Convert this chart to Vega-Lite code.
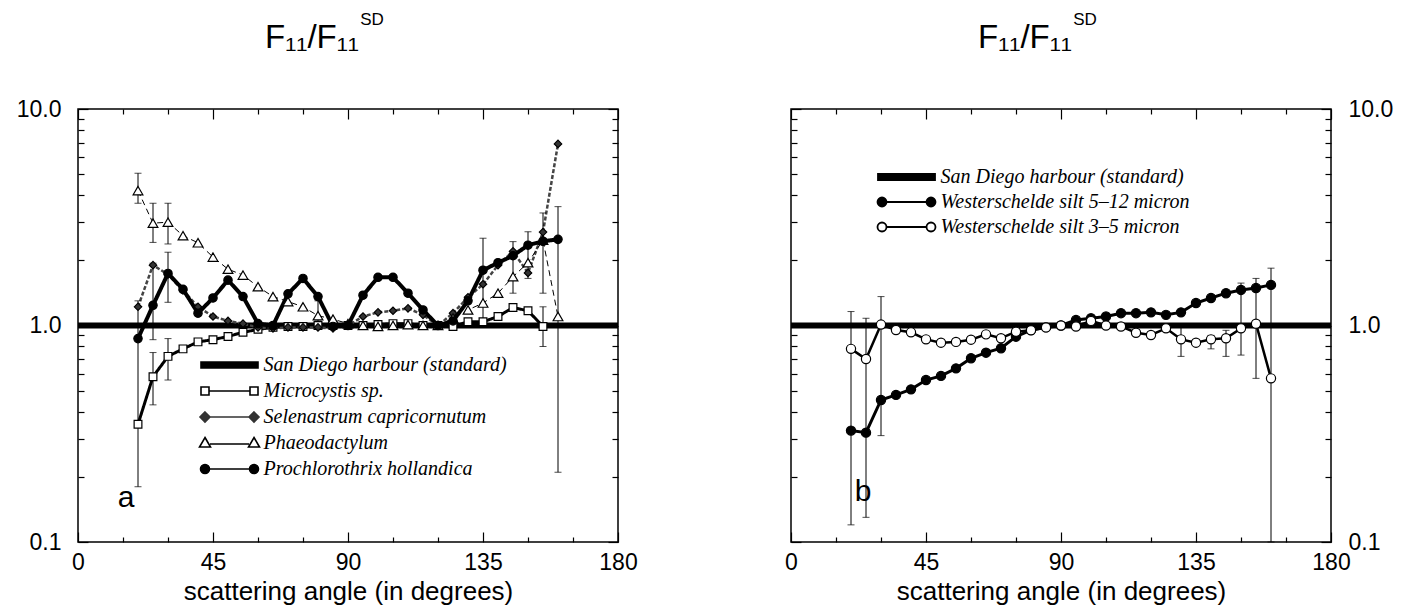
{
  "$schema": "https://vega.github.io/schema/vega-lite/v6.json",
  "padding": {"left": 15, "top": 10, "right": 15, "bottom": 2},
  "background": "white",
  "datasets": {
    "series": [
      {"panel":"a","series":"San Diego harbour (standard)","angle":0,"ratio":1.0},
      {"panel":"a","series":"San Diego harbour (standard)","angle":180,"ratio":1.0},
      {"panel":"a","series":"Microcystis sp.","angle":20,"ratio":0.35},
      {"panel":"a","series":"Microcystis sp.","angle":25,"ratio":0.58},
      {"panel":"a","series":"Microcystis sp.","angle":30,"ratio":0.72},
      {"panel":"a","series":"Microcystis sp.","angle":35,"ratio":0.78},
      {"panel":"a","series":"Microcystis sp.","angle":40,"ratio":0.84},
      {"panel":"a","series":"Microcystis sp.","angle":45,"ratio":0.86},
      {"panel":"a","series":"Microcystis sp.","angle":50,"ratio":0.89},
      {"panel":"a","series":"Microcystis sp.","angle":55,"ratio":0.93},
      {"panel":"a","series":"Microcystis sp.","angle":60,"ratio":0.96},
      {"panel":"a","series":"Microcystis sp.","angle":65,"ratio":0.98},
      {"panel":"a","series":"Microcystis sp.","angle":70,"ratio":0.99},
      {"panel":"a","series":"Microcystis sp.","angle":75,"ratio":0.99},
      {"panel":"a","series":"Microcystis sp.","angle":80,"ratio":1.0},
      {"panel":"a","series":"Microcystis sp.","angle":85,"ratio":1.0},
      {"panel":"a","series":"Microcystis sp.","angle":90,"ratio":1.0},
      {"panel":"a","series":"Microcystis sp.","angle":95,"ratio":1.0},
      {"panel":"a","series":"Microcystis sp.","angle":100,"ratio":1.01},
      {"panel":"a","series":"Microcystis sp.","angle":105,"ratio":1.02},
      {"panel":"a","series":"Microcystis sp.","angle":110,"ratio":1.02},
      {"panel":"a","series":"Microcystis sp.","angle":115,"ratio":1.0},
      {"panel":"a","series":"Microcystis sp.","angle":120,"ratio":1.0},
      {"panel":"a","series":"Microcystis sp.","angle":125,"ratio":0.99},
      {"panel":"a","series":"Microcystis sp.","angle":130,"ratio":1.04},
      {"panel":"a","series":"Microcystis sp.","angle":135,"ratio":1.04},
      {"panel":"a","series":"Microcystis sp.","angle":140,"ratio":1.1},
      {"panel":"a","series":"Microcystis sp.","angle":145,"ratio":1.21},
      {"panel":"a","series":"Microcystis sp.","angle":150,"ratio":1.17},
      {"panel":"a","series":"Microcystis sp.","angle":155,"ratio":0.99},
      {"panel":"a","series":"Selenastrum capricornutum","angle":20,"ratio":1.22},
      {"panel":"a","series":"Selenastrum capricornutum","angle":25,"ratio":1.9},
      {"panel":"a","series":"Selenastrum capricornutum","angle":30,"ratio":1.72},
      {"panel":"a","series":"Selenastrum capricornutum","angle":35,"ratio":1.45},
      {"panel":"a","series":"Selenastrum capricornutum","angle":40,"ratio":1.22},
      {"panel":"a","series":"Selenastrum capricornutum","angle":45,"ratio":1.1},
      {"panel":"a","series":"Selenastrum capricornutum","angle":50,"ratio":1.05},
      {"panel":"a","series":"Selenastrum capricornutum","angle":55,"ratio":1.02},
      {"panel":"a","series":"Selenastrum capricornutum","angle":60,"ratio":0.98},
      {"panel":"a","series":"Selenastrum capricornutum","angle":65,"ratio":0.97},
      {"panel":"a","series":"Selenastrum capricornutum","angle":70,"ratio":0.98},
      {"panel":"a","series":"Selenastrum capricornutum","angle":75,"ratio":0.98},
      {"panel":"a","series":"Selenastrum capricornutum","angle":80,"ratio":0.98},
      {"panel":"a","series":"Selenastrum capricornutum","angle":85,"ratio":0.97},
      {"panel":"a","series":"Selenastrum capricornutum","angle":90,"ratio":1.0},
      {"panel":"a","series":"Selenastrum capricornutum","angle":95,"ratio":1.1},
      {"panel":"a","series":"Selenastrum capricornutum","angle":100,"ratio":1.15},
      {"panel":"a","series":"Selenastrum capricornutum","angle":105,"ratio":1.17},
      {"panel":"a","series":"Selenastrum capricornutum","angle":110,"ratio":1.2},
      {"panel":"a","series":"Selenastrum capricornutum","angle":115,"ratio":1.12},
      {"panel":"a","series":"Selenastrum capricornutum","angle":120,"ratio":1.0},
      {"panel":"a","series":"Selenastrum capricornutum","angle":125,"ratio":1.14},
      {"panel":"a","series":"Selenastrum capricornutum","angle":130,"ratio":1.35},
      {"panel":"a","series":"Selenastrum capricornutum","angle":135,"ratio":1.55},
      {"panel":"a","series":"Selenastrum capricornutum","angle":140,"ratio":1.9},
      {"panel":"a","series":"Selenastrum capricornutum","angle":145,"ratio":2.2},
      {"panel":"a","series":"Selenastrum capricornutum","angle":150,"ratio":1.75},
      {"panel":"a","series":"Selenastrum capricornutum","angle":155,"ratio":2.7},
      {"panel":"a","series":"Selenastrum capricornutum","angle":160,"ratio":6.9},
      {"panel":"a","series":"Phaeodactylum","angle":20,"ratio":4.2},
      {"panel":"a","series":"Phaeodactylum","angle":25,"ratio":2.97},
      {"panel":"a","series":"Phaeodactylum","angle":30,"ratio":3.0},
      {"panel":"a","series":"Phaeodactylum","angle":35,"ratio":2.6},
      {"panel":"a","series":"Phaeodactylum","angle":40,"ratio":2.41},
      {"panel":"a","series":"Phaeodactylum","angle":45,"ratio":2.07},
      {"panel":"a","series":"Phaeodactylum","angle":50,"ratio":1.82},
      {"panel":"a","series":"Phaeodactylum","angle":55,"ratio":1.71},
      {"panel":"a","series":"Phaeodactylum","angle":60,"ratio":1.51},
      {"panel":"a","series":"Phaeodactylum","angle":65,"ratio":1.36},
      {"panel":"a","series":"Phaeodactylum","angle":70,"ratio":1.29},
      {"panel":"a","series":"Phaeodactylum","angle":75,"ratio":1.22},
      {"panel":"a","series":"Phaeodactylum","angle":80,"ratio":1.11},
      {"panel":"a","series":"Phaeodactylum","angle":85,"ratio":1.07},
      {"panel":"a","series":"Phaeodactylum","angle":90,"ratio":1.02},
      {"panel":"a","series":"Phaeodactylum","angle":95,"ratio":1.0},
      {"panel":"a","series":"Phaeodactylum","angle":100,"ratio":0.99},
      {"panel":"a","series":"Phaeodactylum","angle":105,"ratio":1.0},
      {"panel":"a","series":"Phaeodactylum","angle":110,"ratio":1.01},
      {"panel":"a","series":"Phaeodactylum","angle":115,"ratio":1.0},
      {"panel":"a","series":"Phaeodactylum","angle":120,"ratio":1.0},
      {"panel":"a","series":"Phaeodactylum","angle":125,"ratio":1.08},
      {"panel":"a","series":"Phaeodactylum","angle":130,"ratio":1.18},
      {"panel":"a","series":"Phaeodactylum","angle":135,"ratio":1.27},
      {"panel":"a","series":"Phaeodactylum","angle":140,"ratio":1.41},
      {"panel":"a","series":"Phaeodactylum","angle":145,"ratio":1.68},
      {"panel":"a","series":"Phaeodactylum","angle":150,"ratio":1.95},
      {"panel":"a","series":"Phaeodactylum","angle":155,"ratio":2.48},
      {"panel":"a","series":"Phaeodactylum","angle":160,"ratio":1.1},
      {"panel":"a","series":"Prochlorothrix hollandica","angle":20,"ratio":0.87},
      {"panel":"a","series":"Prochlorothrix hollandica","angle":25,"ratio":1.24},
      {"panel":"a","series":"Prochlorothrix hollandica","angle":30,"ratio":1.74},
      {"panel":"a","series":"Prochlorothrix hollandica","angle":35,"ratio":1.47},
      {"panel":"a","series":"Prochlorothrix hollandica","angle":40,"ratio":1.14},
      {"panel":"a","series":"Prochlorothrix hollandica","angle":45,"ratio":1.34},
      {"panel":"a","series":"Prochlorothrix hollandica","angle":50,"ratio":1.62},
      {"panel":"a","series":"Prochlorothrix hollandica","angle":55,"ratio":1.36},
      {"panel":"a","series":"Prochlorothrix hollandica","angle":60,"ratio":1.02},
      {"panel":"a","series":"Prochlorothrix hollandica","angle":65,"ratio":1.0},
      {"panel":"a","series":"Prochlorothrix hollandica","angle":70,"ratio":1.4},
      {"panel":"a","series":"Prochlorothrix hollandica","angle":75,"ratio":1.65},
      {"panel":"a","series":"Prochlorothrix hollandica","angle":80,"ratio":1.36},
      {"panel":"a","series":"Prochlorothrix hollandica","angle":85,"ratio":0.99},
      {"panel":"a","series":"Prochlorothrix hollandica","angle":90,"ratio":1.0},
      {"panel":"a","series":"Prochlorothrix hollandica","angle":95,"ratio":1.38},
      {"panel":"a","series":"Prochlorothrix hollandica","angle":100,"ratio":1.67},
      {"panel":"a","series":"Prochlorothrix hollandica","angle":105,"ratio":1.67},
      {"panel":"a","series":"Prochlorothrix hollandica","angle":110,"ratio":1.41},
      {"panel":"a","series":"Prochlorothrix hollandica","angle":115,"ratio":1.18},
      {"panel":"a","series":"Prochlorothrix hollandica","angle":120,"ratio":1.0},
      {"panel":"a","series":"Prochlorothrix hollandica","angle":125,"ratio":1.05},
      {"panel":"a","series":"Prochlorothrix hollandica","angle":130,"ratio":1.3},
      {"panel":"a","series":"Prochlorothrix hollandica","angle":135,"ratio":1.8},
      {"panel":"a","series":"Prochlorothrix hollandica","angle":140,"ratio":1.95},
      {"panel":"a","series":"Prochlorothrix hollandica","angle":145,"ratio":2.1},
      {"panel":"a","series":"Prochlorothrix hollandica","angle":150,"ratio":2.35},
      {"panel":"a","series":"Prochlorothrix hollandica","angle":155,"ratio":2.45},
      {"panel":"a","series":"Prochlorothrix hollandica","angle":160,"ratio":2.5},
      {"panel":"b","series":"San Diego harbour (standard)","angle":0,"ratio":1.0},
      {"panel":"b","series":"San Diego harbour (standard)","angle":180,"ratio":1.0},
      {"panel":"b","series":"Westerschelde silt 5–12 micron","angle":20,"ratio":0.327},
      {"panel":"b","series":"Westerschelde silt 5–12 micron","angle":25,"ratio":0.32},
      {"panel":"b","series":"Westerschelde silt 5–12 micron","angle":30,"ratio":0.453},
      {"panel":"b","series":"Westerschelde silt 5–12 micron","angle":35,"ratio":0.478},
      {"panel":"b","series":"Westerschelde silt 5–12 micron","angle":40,"ratio":0.507},
      {"panel":"b","series":"Westerschelde silt 5–12 micron","angle":45,"ratio":0.56},
      {"panel":"b","series":"Westerschelde silt 5–12 micron","angle":50,"ratio":0.585},
      {"panel":"b","series":"Westerschelde silt 5–12 micron","angle":55,"ratio":0.634},
      {"panel":"b","series":"Westerschelde silt 5–12 micron","angle":60,"ratio":0.706},
      {"panel":"b","series":"Westerschelde silt 5–12 micron","angle":65,"ratio":0.749},
      {"panel":"b","series":"Westerschelde silt 5–12 micron","angle":70,"ratio":0.785},
      {"panel":"b","series":"Westerschelde silt 5–12 micron","angle":75,"ratio":0.888},
      {"panel":"b","series":"Westerschelde silt 5–12 micron","angle":80,"ratio":0.953},
      {"panel":"b","series":"Westerschelde silt 5–12 micron","angle":85,"ratio":0.98},
      {"panel":"b","series":"Westerschelde silt 5–12 micron","angle":90,"ratio":1.0},
      {"panel":"b","series":"Westerschelde silt 5–12 micron","angle":95,"ratio":1.06},
      {"panel":"b","series":"Westerschelde silt 5–12 micron","angle":100,"ratio":1.08},
      {"panel":"b","series":"Westerschelde silt 5–12 micron","angle":105,"ratio":1.1},
      {"panel":"b","series":"Westerschelde silt 5–12 micron","angle":110,"ratio":1.14},
      {"panel":"b","series":"Westerschelde silt 5–12 micron","angle":115,"ratio":1.14},
      {"panel":"b","series":"Westerschelde silt 5–12 micron","angle":120,"ratio":1.15},
      {"panel":"b","series":"Westerschelde silt 5–12 micron","angle":125,"ratio":1.12},
      {"panel":"b","series":"Westerschelde silt 5–12 micron","angle":130,"ratio":1.15},
      {"panel":"b","series":"Westerschelde silt 5–12 micron","angle":135,"ratio":1.27},
      {"panel":"b","series":"Westerschelde silt 5–12 micron","angle":140,"ratio":1.34},
      {"panel":"b","series":"Westerschelde silt 5–12 micron","angle":145,"ratio":1.41},
      {"panel":"b","series":"Westerschelde silt 5–12 micron","angle":150,"ratio":1.46},
      {"panel":"b","series":"Westerschelde silt 5–12 micron","angle":155,"ratio":1.49},
      {"panel":"b","series":"Westerschelde silt 5–12 micron","angle":160,"ratio":1.54},
      {"panel":"b","series":"Westerschelde silt 3–5 micron","angle":20,"ratio":0.78},
      {"panel":"b","series":"Westerschelde silt 3–5 micron","angle":25,"ratio":0.70},
      {"panel":"b","series":"Westerschelde silt 3–5 micron","angle":30,"ratio":1.01},
      {"panel":"b","series":"Westerschelde silt 3–5 micron","angle":35,"ratio":0.953},
      {"panel":"b","series":"Westerschelde silt 3–5 micron","angle":40,"ratio":0.93},
      {"panel":"b","series":"Westerschelde silt 3–5 micron","angle":45,"ratio":0.863},
      {"panel":"b","series":"Westerschelde silt 3–5 micron","angle":50,"ratio":0.833},
      {"panel":"b","series":"Westerschelde silt 3–5 micron","angle":55,"ratio":0.84},
      {"panel":"b","series":"Westerschelde silt 3–5 micron","angle":60,"ratio":0.86},
      {"panel":"b","series":"Westerschelde silt 3–5 micron","angle":65,"ratio":0.91},
      {"panel":"b","series":"Westerschelde silt 3–5 micron","angle":70,"ratio":0.873},
      {"panel":"b","series":"Westerschelde silt 3–5 micron","angle":75,"ratio":0.936},
      {"panel":"b","series":"Westerschelde silt 3–5 micron","angle":80,"ratio":0.95},
      {"panel":"b","series":"Westerschelde silt 3–5 micron","angle":85,"ratio":0.98},
      {"panel":"b","series":"Westerschelde silt 3–5 micron","angle":90,"ratio":1.0},
      {"panel":"b","series":"Westerschelde silt 3–5 micron","angle":95,"ratio":0.99},
      {"panel":"b","series":"Westerschelde silt 3–5 micron","angle":100,"ratio":1.05},
      {"panel":"b","series":"Westerschelde silt 3–5 micron","angle":105,"ratio":1.0},
      {"panel":"b","series":"Westerschelde silt 3–5 micron","angle":110,"ratio":0.99},
      {"panel":"b","series":"Westerschelde silt 3–5 micron","angle":115,"ratio":0.926},
      {"panel":"b","series":"Westerschelde silt 3–5 micron","angle":120,"ratio":0.904},
      {"panel":"b","series":"Westerschelde silt 3–5 micron","angle":125,"ratio":0.97},
      {"panel":"b","series":"Westerschelde silt 3–5 micron","angle":130,"ratio":0.863},
      {"panel":"b","series":"Westerschelde silt 3–5 micron","angle":135,"ratio":0.833},
      {"panel":"b","series":"Westerschelde silt 3–5 micron","angle":140,"ratio":0.863},
      {"panel":"b","series":"Westerschelde silt 3–5 micron","angle":145,"ratio":0.873},
      {"panel":"b","series":"Westerschelde silt 3–5 micron","angle":150,"ratio":0.97},
      {"panel":"b","series":"Westerschelde silt 3–5 micron","angle":155,"ratio":1.02},
      {"panel":"b","series":"Westerschelde silt 3–5 micron","angle":160,"ratio":0.57}
    ],
    "errors": [
      {"panel":"a","angle":20,"lo":0.18,"hi":1.3},
      {"panel":"a","angle":20,"lo":3.67,"hi":5.05},
      {"panel":"a","angle":25,"lo":2.42,"hi":3.67},
      {"panel":"a","angle":25,"lo":0.86,"hi":1.94},
      {"panel":"a","angle":25,"lo":0.43,"hi":0.75},
      {"panel":"a","angle":30,"lo":2.38,"hi":3.67},
      {"panel":"a","angle":30,"lo":1.28,"hi":2.18},
      {"panel":"a","angle":30,"lo":0.56,"hi":0.87},
      {"panel":"a","angle":80,"lo":1.05,"hi":1.3},
      {"panel":"a","angle":135,"lo":1.0,"hi":2.53},
      {"panel":"a","angle":145,"lo":1.41,"hi":2.44},
      {"panel":"a","angle":150,"lo":1.65,"hi":2.71},
      {"panel":"a","angle":155,"lo":1.41,"hi":3.31},
      {"panel":"a","angle":155,"lo":0.8,"hi":1.22},
      {"panel":"a","angle":160,"lo":0.21,"hi":3.54},
      {"panel":"b","angle":20,"lo":0.12,"hi":1.16},
      {"panel":"b","angle":25,"lo":0.13,"hi":1.08},
      {"panel":"b","angle":30,"lo":0.31,"hi":1.36},
      {"panel":"b","angle":130,"lo":0.72,"hi":1.0},
      {"panel":"b","angle":140,"lo":0.78,"hi":0.9},
      {"panel":"b","angle":145,"lo":0.72,"hi":0.95},
      {"panel":"b","angle":150,"lo":0.73,"hi":1.57},
      {"panel":"b","angle":155,"lo":0.57,"hi":1.65},
      {"panel":"b","angle":160,"lo":0.1,"hi":1.84}
    ],
    "notes": [
      {"panel":"a","angle":16,"ratio":0.16,"label":"a"},
      {"panel":"b","angle":24,"ratio":0.17,"label":"b"}
    ]
  },
  "spacing": 140,
  "resolve": {"scale": {"shape": "independent", "fill": "independent", "stroke": "independent", "strokeWidth": "independent", "strokeDash": "independent", "size": "independent"}},
  "hconcat": [
    {
      "width": 540,
      "height": 433,
      "title": {"text": "\u2800\u2800\u2800\u2800SD", "fontSize": 17, "subtitle": "F\u2081\u2081/F\u2081\u2081\u2800\u2800\u2800", "subtitleFontSize": 33, "subtitlePadding": -7, "offset": 42},
      "resolve": {"axis": {"x": "independent", "y": "independent"}, "scale": {"shape": "independent", "fill": "independent", "size": "independent", "stroke": "independent"}},
      "layer": [
        {
          "data": {"name": "series"},
          "transform": [{"filter": "datum.panel === 'a'"}],
          "mark": {"type": "line"},
          "encoding": {
            "x": {"field": "angle", "type": "quantitative", "scale": {"domain": [0, 180], "nice": false},
              "axis": {"orient": "bottom", "values": [0,15,30,45,60,75,90,105,120,135,150,165,180], "labelExpr": "datum.value % 45 === 0 ? datum.label : ''", "title": "scattering angle (in degrees)", "grid": false, "domain": false, "tickSize": {"condition": {"test": "datum.value % 45 === 0", "value": -10}, "value": -5}, "tickWidth": 1.2, "labelFontSize": 23, "labelPadding": 19, "titleFontSize": 26, "titlePadding": 4, "labelFlush": false}},
            "y": {"field": "ratio", "type": "quantitative", "scale": {"type": "log", "domain": [0.1, 10], "nice": false},
              "axis": {"orient": "left", "values": [0.1,0.2,0.3,0.4,0.5,0.6,0.7,0.8,0.9,1,2,3,4,5,6,7,8,9,10], "labelExpr": "(datum.value === 0.1 || datum.value === 1 || datum.value === 10) ? format(datum.value, '.1f') : ''", "title": null, "grid": false, "domain": false, "tickSize": {"condition": {"test": "datum.value === 0.1 || datum.value === 1 || datum.value === 10", "value": -10}, "value": -6}, "tickWidth": 1.2, "labelFontSize": 23, "labelPadding": 27, "labelFlush": false}},
            "stroke": {"field": "series", "type": "nominal", "legend": null, "scale": {"type": "ordinal", "range": ["black", "black", "black", "black", "#444444"]}},
            "strokeWidth": {"field": "series", "type": "nominal", "legend": null, "scale": {"type": "ordinal", "range": [3, 1, 4, 6, 2.5]}},
            "strokeDash": {"field": "series", "type": "nominal", "legend": null, "scale": {"type": "ordinal", "range": [[1, 0], [6, 4], [1, 0], [1, 0], [4, 2]]}}
          }
        },
        {
          "data": {"name": "errors"},
          "transform": [{"filter": "datum.panel === 'a'"}],
          "mark": {"type": "errorbar", "ticks": {"size": 7, "color": "black", "thickness": 1}, "rule": {"color": "black", "strokeWidth": 1}},
          "encoding": {
            "x": {"field": "angle", "type": "quantitative", "axis": null},
            "y": {"field": "lo", "type": "quantitative", "axis": null},
            "y2": {"field": "hi"}
          }
        },
        {
          "data": {"name": "series"},
          "transform": [{"filter": "datum.panel === 'a' && datum.series !== 'San Diego harbour (standard)'"}],
          "mark": {"type": "point", "filled": true, "stroke": "black", "strokeWidth": 1.2, "opacity": 1},
          "encoding": {
            "x": {"field": "angle", "type": "quantitative",
              "axis": {"orient": "top", "values": [0,15,30,45,60,75,90,105,120,135,150,165,180], "labels": false, "title": null, "grid": false, "domain": false, "tickSize": {"condition": {"test": "datum.value % 45 === 0", "value": -10}, "value": -5}, "tickWidth": 1.2}},
            "y": {"field": "ratio", "type": "quantitative",
              "axis": {"orient": "right", "values": [0.1,0.2,0.3,0.4,0.5,0.6,0.7,0.8,0.9,1,2,3,4,5,6,7,8,9,10], "labels": false, "title": null, "grid": false, "domain": false, "tickSize": {"condition": {"test": "datum.value === 0.1 || datum.value === 1 || datum.value === 10", "value": -10}, "value": -6}, "tickWidth": 1.2}},
            "shape": {"field": "series", "type": "nominal", "legend": null,
              "scale": {"type": "ordinal", "range": ["square", "triangle-up", "circle", "diamond"]}},
            "fill": {"field": "series", "type": "nominal", "legend": null,
              "scale": {"type": "ordinal", "range": ["white", "white", "black", "#333333"]}},
            "size": {"field": "series", "type": "nominal", "legend": null,
              "scale": {"type": "ordinal", "range": [60, 95, 70, 55]}}
          }
        },
        {
          "data": {"name": "series"},
          "transform": [{"filter": "datum.panel === 'a' && datum.angle < 0"}],
          "mark": {"type": "point", "filled": true, "strokeWidth": 1.5, "opacity": 1},
          "encoding": {
            "x": {"field": "angle", "type": "quantitative", "axis": null},
            "y": {"field": "ratio", "type": "quantitative", "axis": null},
            "shape": {"field": "series", "type": "nominal",
              "scale": {"domain": ["San Diego harbour (standard)", "Microcystis sp.", "Selenastrum capricornutum", "Phaeodactylum", "Prochlorothrix hollandica"], "range": ["M-5.7,-0.6H5.7V0.6H-5.7Z", "M-4.1,0H4.1M-5.7,-0.8H-4.1V0.8H-5.7ZM4.1,-0.8H5.7V0.8H4.1Z", "M-3.9,0H3.9M-4.9,-1L-3.9,0L-4.9,1L-5.9,0ZM4.9,-1L5.9,0L4.9,1L3.9,0Z", "M-3.9,0.2H3.9M-4.9,-1.1L-3.8,0.8L-6,0.8ZM4.9,-1.1L6,0.8L3.8,0.8Z", "M-4,0H4M-5.8,0A0.9,0.9,0,1,0,-4,0A0.9,0.9,0,1,0,-5.8,0ZM4,0A0.9,0.9,0,1,0,5.8,0A0.9,0.9,0,1,0,4,0Z"]},
              "legend": {"orient": "none", "legendX": 123, "legendY": 246, "title": null, "padding": 0, "labelFont": "Liberation Serif", "labelFontStyle": "italic", "labelFontSize": 20, "labelColor": "black", "labelLimit": 400, "symbolSize": 100, "symbolStrokeWidth": 1.6, "symbolOpacity": 1, "symbolOffset": 18.5, "labelOffset": 24, "rowPadding": 6}},
            "fill": {"field": "series", "type": "nominal",
              "scale": {"domain": ["San Diego harbour (standard)", "Microcystis sp.", "Selenastrum capricornutum", "Phaeodactylum", "Prochlorothrix hollandica"], "range": ["black", "white", "#333333", "white", "black"]},
              "legend": {"orient": "none", "legendX": 123, "legendY": 246, "title": null, "padding": 0, "labelFont": "Liberation Serif", "labelFontStyle": "italic", "labelFontSize": 20, "labelColor": "black", "labelLimit": 400, "symbolSize": 100, "symbolStrokeWidth": 1.6, "symbolOpacity": 1, "symbolOffset": 18.5, "labelOffset": 24, "rowPadding": 6}},
            "stroke": {"field": "series", "type": "nominal",
              "scale": {"domain": ["San Diego harbour (standard)", "Microcystis sp.", "Selenastrum capricornutum", "Phaeodactylum", "Prochlorothrix hollandica"], "range": ["black", "black", "#333333", "black", "black"]},
              "legend": {"orient": "none", "legendX": 123, "legendY": 246, "title": null, "padding": 0, "labelFont": "Liberation Serif", "labelFontStyle": "italic", "labelFontSize": 20, "labelColor": "black", "labelLimit": 400, "symbolSize": 100, "symbolStrokeWidth": 1.6, "symbolOpacity": 1, "symbolOffset": 18.5, "labelOffset": 24, "rowPadding": 6}}
          }
        },
        {
          "data": {"name": "notes"},
          "transform": [{"filter": "datum.panel === 'a'"}],
          "mark": {"type": "text", "fontSize": 30, "font": "Liberation Sans", "color": "black", "baseline": "middle", "align": "center"},
          "encoding": {
            "x": {"field": "angle", "type": "quantitative", "axis": null},
            "y": {"field": "ratio", "type": "quantitative", "axis": null},
            "text": {"field": "label"}
          }
        }
      ]
    },
    {
      "width": 540,
      "height": 433,
      "title": {"text": "\u2800\u2800\u2800\u2800SD", "fontSize": 17, "subtitle": "F\u2081\u2081/F\u2081\u2081\u2800\u2800\u2800", "subtitleFontSize": 33, "subtitlePadding": -7, "offset": 42},
      "resolve": {"axis": {"x": "independent", "y": "independent"}, "scale": {"shape": "independent", "fill": "independent", "size": "independent", "stroke": "independent"}},
      "layer": [
        {
          "data": {"name": "series"},
          "transform": [{"filter": "datum.panel === 'b'"}],
          "mark": {"type": "line", "color": "black"},
          "encoding": {
            "x": {"field": "angle", "type": "quantitative", "scale": {"domain": [0, 180], "nice": false},
              "axis": {"orient": "bottom", "values": [0,15,30,45,60,75,90,105,120,135,150,165,180], "labelExpr": "datum.value % 45 === 0 ? datum.label : ''", "title": "scattering angle (in degrees)", "grid": false, "domain": false, "tickSize": {"condition": {"test": "datum.value % 45 === 0", "value": -10}, "value": -5}, "tickWidth": 1.2, "labelFontSize": 23, "labelPadding": 19, "titleFontSize": 26, "titlePadding": 4, "labelFlush": false}},
            "y": {"field": "ratio", "type": "quantitative", "scale": {"type": "log", "domain": [0.1, 10], "nice": false},
              "axis": {"orient": "right", "values": [0.1,0.2,0.3,0.4,0.5,0.6,0.7,0.8,0.9,1,2,3,4,5,6,7,8,9,10], "labelExpr": "(datum.value === 0.1 || datum.value === 1 || datum.value === 10) ? format(datum.value, '.1f') : ''", "title": null, "grid": false, "domain": false, "tickSize": {"condition": {"test": "datum.value === 0.1 || datum.value === 1 || datum.value === 10", "value": -10}, "value": -6}, "tickWidth": 1.2, "labelFontSize": 23, "labelPadding": 27, "labelFlush": false}},
            "strokeWidth": {"field": "series", "type": "nominal", "legend": null, "scale": {"type": "ordinal", "range": [6, 2.5, 3]}}
          }
        },
        {
          "data": {"name": "errors"},
          "transform": [{"filter": "datum.panel === 'b'"}],
          "mark": {"type": "errorbar", "ticks": {"size": 7, "color": "black", "thickness": 1}, "rule": {"color": "black", "strokeWidth": 1}},
          "encoding": {
            "x": {"field": "angle", "type": "quantitative", "axis": null},
            "y": {"field": "lo", "type": "quantitative", "axis": null},
            "y2": {"field": "hi"}
          }
        },
        {
          "data": {"name": "series"},
          "transform": [{"filter": "datum.panel === 'b' && datum.series !== 'San Diego harbour (standard)'"}],
          "mark": {"type": "point", "filled": true, "shape": "circle", "stroke": "black", "strokeWidth": 1.2, "opacity": 1, "size": 85},
          "encoding": {
            "x": {"field": "angle", "type": "quantitative",
              "axis": {"orient": "top", "values": [0,15,30,45,60,75,90,105,120,135,150,165,180], "labels": false, "title": null, "grid": false, "domain": false, "tickSize": {"condition": {"test": "datum.value % 45 === 0", "value": -10}, "value": -5}, "tickWidth": 1.2}},
            "y": {"field": "ratio", "type": "quantitative",
              "axis": {"orient": "left", "values": [0.1,0.2,0.3,0.4,0.5,0.6,0.7,0.8,0.9,1,2,3,4,5,6,7,8,9,10], "labels": false, "title": null, "grid": false, "domain": false, "tickSize": {"condition": {"test": "datum.value === 0.1 || datum.value === 1 || datum.value === 10", "value": -10}, "value": -6}, "tickWidth": 1.2}},
            "fill": {"field": "series", "type": "nominal", "legend": null,
              "scale": {"type": "ordinal", "range": ["white", "black"]}}
          }
        },
        {
          "data": {"name": "series"},
          "transform": [{"filter": "datum.panel === 'b' && datum.angle < 0"}],
          "mark": {"type": "point", "filled": true, "strokeWidth": 1.5, "opacity": 1},
          "encoding": {
            "x": {"field": "angle", "type": "quantitative", "axis": null},
            "y": {"field": "ratio", "type": "quantitative", "axis": null},
            "shape": {"field": "series", "type": "nominal",
              "scale": {"domain": ["San Diego harbour (standard)", "Westerschelde silt 5–12 micron", "Westerschelde silt 3–5 micron"], "range": ["M-5.7,-0.6H5.7V0.6H-5.7Z", "M-4,0H4M-5.8,0A0.9,0.9,0,1,0,-4,0A0.9,0.9,0,1,0,-5.8,0ZM4,0A0.9,0.9,0,1,0,5.8,0A0.9,0.9,0,1,0,4,0Z", "M-4,0H4M-5.8,0A0.9,0.9,0,1,0,-4,0A0.9,0.9,0,1,0,-5.8,0ZM4,0A0.9,0.9,0,1,0,5.8,0A0.9,0.9,0,1,0,4,0Z"]},
              "legend": {"orient": "none", "legendX": 87, "legendY": 58, "title": null, "padding": 0, "labelFont": "Liberation Serif", "labelFontStyle": "italic", "labelFontSize": 20, "labelColor": "black", "labelLimit": 400, "symbolSize": 100, "symbolStrokeWidth": 1.8, "symbolOpacity": 1, "symbolOffset": 18.5, "labelOffset": 24, "rowPadding": 5}},
            "fill": {"field": "series", "type": "nominal",
              "scale": {"domain": ["San Diego harbour (standard)", "Westerschelde silt 5–12 micron", "Westerschelde silt 3–5 micron"], "range": ["black", "black", "white"]},
              "legend": {"orient": "none", "legendX": 87, "legendY": 58, "title": null, "padding": 0, "labelFont": "Liberation Serif", "labelFontStyle": "italic", "labelFontSize": 20, "labelColor": "black", "labelLimit": 400, "symbolSize": 100, "symbolStrokeWidth": 1.8, "symbolOpacity": 1, "symbolOffset": 18.5, "labelOffset": 24, "rowPadding": 5}},
            "stroke": {"field": "series", "type": "nominal",
              "scale": {"domain": ["San Diego harbour (standard)", "Westerschelde silt 5–12 micron", "Westerschelde silt 3–5 micron"], "range": ["black", "black", "black"]},
              "legend": {"orient": "none", "legendX": 87, "legendY": 58, "title": null, "padding": 0, "labelFont": "Liberation Serif", "labelFontStyle": "italic", "labelFontSize": 20, "labelColor": "black", "labelLimit": 400, "symbolSize": 100, "symbolStrokeWidth": 1.8, "symbolOpacity": 1, "symbolOffset": 18.5, "labelOffset": 24, "rowPadding": 5}}
          }
        },
        {
          "data": {"name": "notes"},
          "transform": [{"filter": "datum.panel === 'b'"}],
          "mark": {"type": "text", "fontSize": 30, "font": "Liberation Sans", "color": "black", "baseline": "middle", "align": "center"},
          "encoding": {
            "x": {"field": "angle", "type": "quantitative", "axis": null},
            "y": {"field": "ratio", "type": "quantitative", "axis": null},
            "text": {"field": "label"}
          }
        }
      ]
    }
  ],
  "config": {
    "view": {"stroke": "black", "strokeWidth": 1.5},
    "font": "Liberation Sans",
    "axis": {"labelFont": "Liberation Sans", "titleFont": "Liberation Sans", "labelColor": "black", "titleColor": "black", "tickColor": "black", "titleFontWeight": "normal"},
    "title": {"font": "Liberation Sans", "subtitleFont": "Liberation Sans", "color": "black", "subtitleColor": "black", "fontWeight": "normal", "anchor": "middle"}
  }
}
